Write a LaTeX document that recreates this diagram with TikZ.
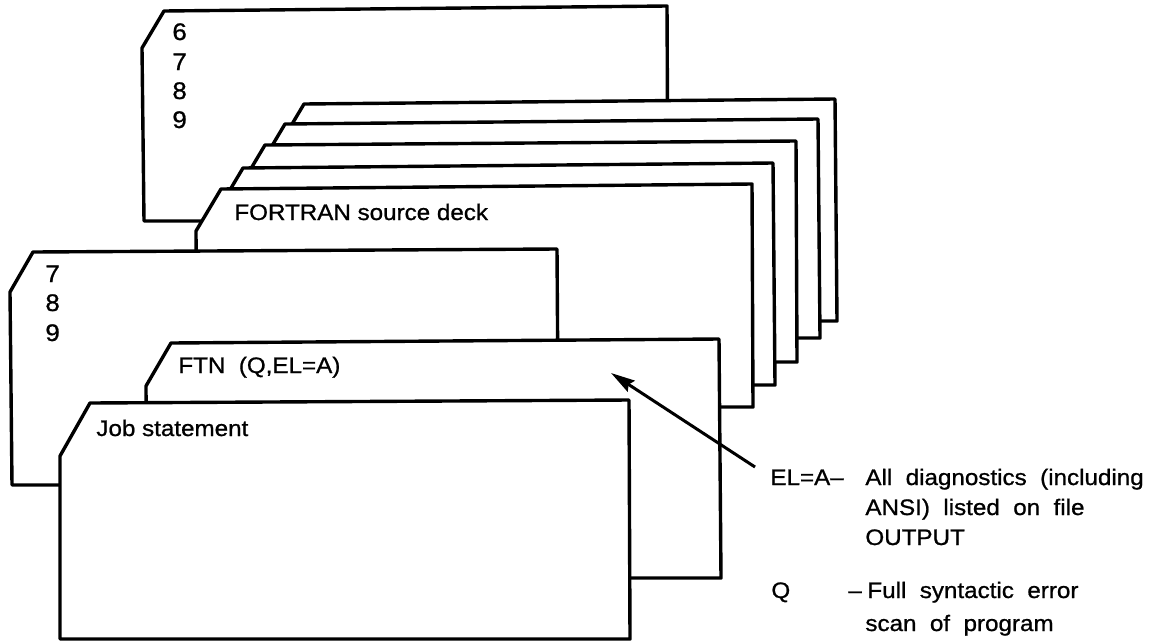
\documentclass[tikz,border=0pt]{standalone}
\usepackage{fontspec}
\setmainfont[FakeStretch=1.08, FakeBold=0.9]{Liberation Sans}
\newfontfamily\notefont[FakeStretch=1.08, FakeBold=0.9, WordSpace=2]{Liberation Sans}
\usetikzlibrary{arrows.meta}

\begin{document}
\begin{tikzpicture}[
	x=0.5pt, y=-0.5pt,
	card/.style={
		draw, fill=white,
		line width=1.7pt,
		line join=round
	},
	label node/.style={font=\fontsize{11.2}{13}\selectfont, anchor=base west, inner sep=0pt},
	digit node/.style={label node, font=\fontsize{12}{13}\selectfont},
	note node/.style={label node, font=\fontsize{11.2}{13}\notefont},
	pointer/.style={line width=1.5pt, -{Stealth[length=12pt, width=6.5pt, inset=1.5pt]}}
	]
	\useasboundingbox (0,0) rectangle (1155,643);
	
	% end-of-record card
	\draw[card] (164,11) -- (667,6) -- (668,221) -- (144,221) -- (142,48) -- cycle;
	
	\node[digit node] (six) at (172,40) {6};
	\node[digit node] (seven top) at (172,70) {7};
	\node[digit node] (eight top) at (172,99) {8};
	\node[digit node] (nine top) at (172,128) {9};
	
	% source deck, back to front
	\draw[card] (304,104) -- (835,99) -- (837,321) -- (280,321) -- (279,146) -- cycle;
	\draw[card] (285,124) -- (818,119) -- (820,338) -- (261,338) -- (260,166) -- cycle;
	\draw[card] (265,145) -- (796,141) -- (797,362) -- (241,362) -- (240,187) -- cycle;
	\draw[card] (243,168) -- (773,163) -- (775,385) -- (219,385) -- (218,210) -- cycle;
	\draw[card] (221,189) -- (752,184) -- (753,407) -- (197,407) -- (196,231) -- cycle;
	
	\node[label node] (deck) at (234,220) {FORTRAN source deck};
	
	% end-of-record card
	\draw[card] (33,252) -- (557,249) -- (558,400) -- (558,485) -- (12,485) -- (10,292) -- cycle;
	
	\node[digit node] (seven) at (45,282) {7};
	\node[digit node] (eight) at (45,311) {8};
	\node[digit node] (nine) at (45,341) {9};
	
	% control cards
	\draw[card] (171,343) -- (719,339) -- (721,578) -- (147,578) -- (146,386) -- cycle;
	
	\node[label node] (ftn) at (178,373) {FTN\ \ (Q,EL=A)};
	
	\draw[card] (90,403) -- (629,400) -- (630,639) -- (60,639) -- (60,456) -- cycle;
	
	\node[label node] (job) at (96,436) {Job statement};
	
	% pointer to the options
	\coordinate (tail) at (755,467);
	\coordinate (tip) at (611,373);
	\draw[pointer] (tail) -- (tip);
	
	\node[note node] (el) at (770,485) {EL=A–};
	\node[note node] (el one) at (865,485) {All diagnostics (including};
	\node[note node] (el two) at (865,515) {ANSI) listed on file};
	\node[note node] (el three) at (865,545) {OUTPUT};
	
	\node[note node] (q) at (771,598) {Q};
	\node[note node] (q dash) at (848,598) {–};
	\node[note node] (q one) at (867,598) {Full syntactic error};
	\node[note node] (q two) at (865,631) {scan of program};
	
\end{tikzpicture}
\end{document}
